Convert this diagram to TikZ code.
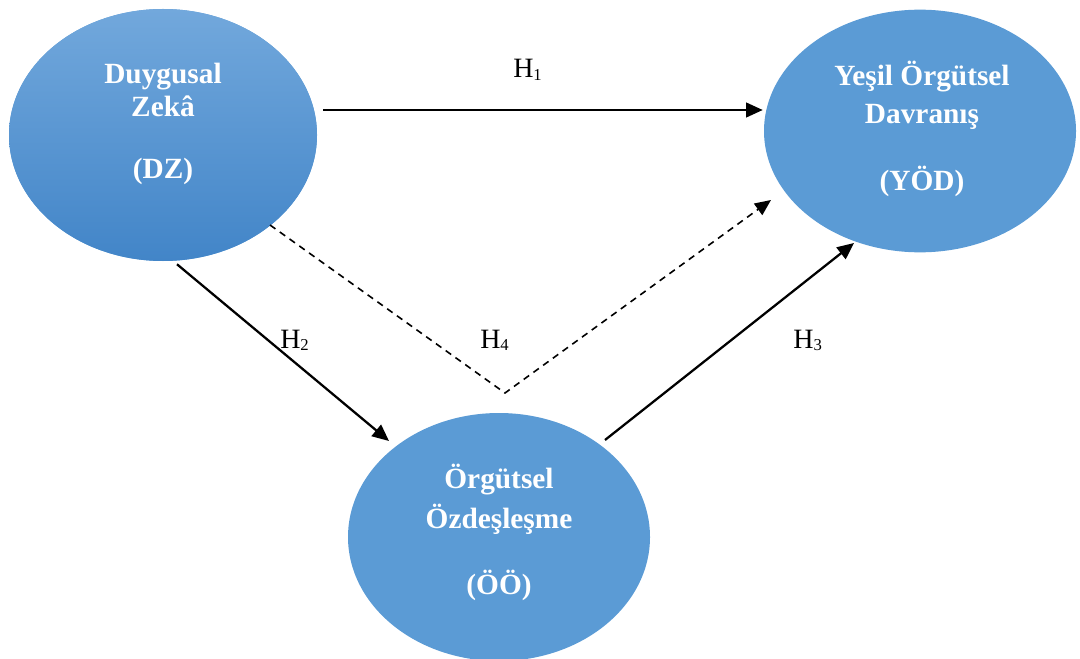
\documentclass[tikz,border=0pt]{standalone}
\usepackage{fontspec}
\setmainfont{Liberation Serif}
\usetikzlibrary{arrows.meta,shapes.geometric}
\definecolor{ovalblue}{HTML}{5B9BD5}
\definecolor{ovaltop}{HTML}{72A8DC}
\definecolor{ovalbot}{HTML}{4285C8}
\newcommand{\hyplabel}[1]{H{\fontsize{12.5}{12.5}\selectfont\raisebox{-1.6pt}{#1}}}
\begin{document}
\begin{tikzpicture}[x=0.75pt,y=-0.75pt,
  oval/.style={ellipse, draw=none, fill=ovalblue, inner sep=0pt},
  ovaltext/.style={text=white, font=\fontsize{22}{25}\selectfont\bfseries,
    align=center, inner sep=0pt, anchor=north},
  hyp/.style={font=\fontsize{21}{24}\selectfont, inner sep=0pt, anchor=base west},
  link/.style={line width=1.7pt, -{Triangle[length=12.5pt,width=11pt]}},
  dashlink/.style={line width=1.2pt, dash pattern=on 5pt off 4pt,
    -{Triangle[length=12pt,width=10.5pt]}},
 ]
\useasboundingbox (0,0) rectangle (1080,659);

% the three constructs
\node[oval, top color=ovaltop, bottom color=ovalbot,
  minimum width=231pt, minimum height=189pt] (dz) at (163,135) {};
\node[oval, minimum width=234pt, minimum height=182pt] (yod) at (920,131) {};
\node[oval, minimum width=226.5pt, minimum height=186pt] (oo) at (499,537) {};

\node[ovaltext] (dztext) at (163,63) {Duygusal\\Zekâ\\[21pt](DZ)};
\node[ovaltext] (yodtext) at (922,61) {Yeşil Örgütsel\\[3.5pt]Davranış\\[25pt](YÖD)};
\node[ovaltext] (ootext) at (499,464) {Örgütsel\\[5pt]Özdeşleşme\\[24pt](ÖÖ)};

% hypothesised paths
\coordinate (bend) at (505,393);
\draw[link] ([shift={(6,-25)}]dz.east) -- ([shift={(-1,-21)}]yod.west);
\draw[link] ([shift={(14,3)}]dz.south) -- ([shift={(-110,-96)}]oo.center);
\draw[link] ([shift={(106,-97)}]oo.center) -- ([shift={(-66,112)}]yod.center);
\draw[dashlink] ([shift={(107,90)}]dz.center) -- (bend) -- ([shift={(-149,69)}]yod.center);

% hypothesis labels
\node[hyp] (h1) at (513,78) {\hyplabel{1}};
\node[hyp] (h2) at (280,348) {\hyplabel{2}};
\node[hyp] (h4) at (480,348) {\hyplabel{4}};
\node[hyp] (h3) at (793,348) {\hyplabel{3}};
\end{tikzpicture}
\end{document}
